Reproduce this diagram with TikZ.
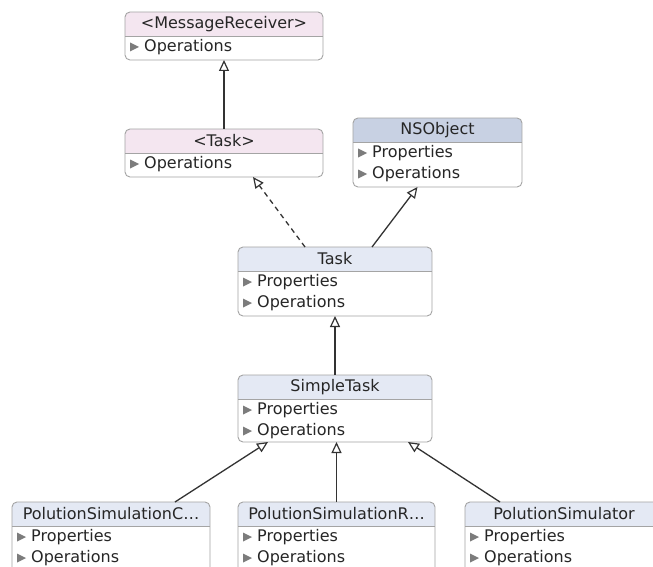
\documentclass[tikz,border=0pt]{standalone}
\usepackage{fontspec}
\setmainfont{DejaVu Sans}
\usetikzlibrary{calc,arrows.meta}

\definecolor{ifacehead}{HTML}{F4E6F0}
\definecolor{classhead}{HTML}{E4E9F4}
\definecolor{roothead}{HTML}{C8D1E3}
\definecolor{boxline}{HTML}{A4A4A4}
\definecolor{marker}{HTML}{7C7C7C}
\definecolor{wire}{HTML}{333333}

\tikzset{
  classbox/.style={inner sep=0pt, outer sep=0pt},
  title/.style={font=\fontsize{16}{18}\selectfont, inner sep=0pt, text=black!85},
  member/.style={font=\fontsize{16}{18}\selectfont, inner sep=0pt, anchor=west, text=black!85},
  inherit/.style={wire, line width=1.3pt, -{Triangle[open, length=11pt, width=10pt, line width=1.2pt]}},
  realize/.style={inherit, dash pattern=on 5pt off 4pt}
}

% #1 name, #2 left, #3 top, #4 width, #5 height, #6 header colour, #7 title
\newcommand{\umlclass}[7]{%
  \node[classbox, minimum width=#4pt, minimum height=#5pt, anchor=north west] (#1) at (#2,#3) {};
  \begin{scope}
    \clip[rounded corners=5pt] (#1.north west) rectangle (#1.south east);
    \fill[white] (#1.north west) rectangle (#1.south east);
    \fill[#6] (#1.north west) rectangle ($(#1.north east)+(0,24)$);
  \end{scope}
  \draw[boxline, line width=0.9pt] ($(#1.north west)+(0,24)$) -- ($(#1.north east)+(0,24)$);
  \draw[boxline, line width=0.9pt, rounded corners=5pt] (#1.north west) rectangle (#1.south east);
  \node[title] (#1-title) at ($(#1.north)+(0,12)$) {#7};
}

% #1 class, #2 row, #3 text
\newcommand{\member}[3]{%
  \fill[marker] ($(#1.north west)+(5,{35+21*(#2-1)-4.5})$) -- ++(9,4.5) -- ++(-9,4.5) -- cycle;
  \node[member] (#1-m#2) at ($(#1.north west)+(19,{35+21*(#2-1)})$) {#3};
}

\begin{document}
\begin{tikzpicture}[x=1pt, y=-1pt]
\useasboundingbox (0,0) rectangle (653,567);
\clip (0,0) rectangle (653,567);
\fill[white] (0,0) rectangle (653,567);

% protocols
\umlclass{recv}{125}{12}{198}{48}{ifacehead}{<MessageReceiver>}
\member{recv}{1}{Operations}
\umlclass{itask}{125}{129}{198}{48}{ifacehead}{<Task>}
\member{itask}{1}{Operations}

% classes
\umlclass{nsobj}{353}{118}{169}{69}{roothead}{NSObject}
\member{nsobj}{1}{Properties}
\member{nsobj}{2}{Operations}
\umlclass{task}{238}{247}{194}{69}{classhead}{Task}
\member{task}{1}{Properties}
\member{task}{2}{Operations}
\umlclass{simple}{238}{375}{194}{67}{classhead}{SimpleTask}
\member{simple}{1}{Properties}
\member{simple}{2}{Operations}

% simulation classes, cut off at the bottom
\umlclass{simc}{12}{502}{198}{80}{classhead}{PolutionSimulationC…}
\member{simc}{1}{Properties}
\member{simc}{2}{Operations}
\umlclass{simr}{238}{502}{197}{80}{classhead}{PolutionSimulationR…}
\member{simr}{1}{Properties}
\member{simr}{2}{Operations}
\umlclass{sim}{465}{502}{198}{80}{classhead}{PolutionSimulator}
\member{sim}{1}{Properties}
\member{sim}{2}{Operations}

% generalisation / realisation
\draw[inherit] (itask.north) -- (recv.south);
\draw[realize] ($(task.north)+(-30,0)$) -- ($(itask.south)+(29,0)$);
\draw[inherit] ($(task.north)+(37,0)$) -- ($(nsobj.south)+(-20,0)$);
\draw[inherit] (simple.north) -- (task.south);
\draw[inherit] ($(simc.north)+(64,0)$) -- ($(simple.south)+(-67,0)$);
\draw[inherit] (simr.north) -- (simr.north |- simple.south);
\draw[inherit] ($(sim.north west)+(35,0)$) -- ($(simple.south)+(73,0)$);
\end{tikzpicture}
\end{document}
